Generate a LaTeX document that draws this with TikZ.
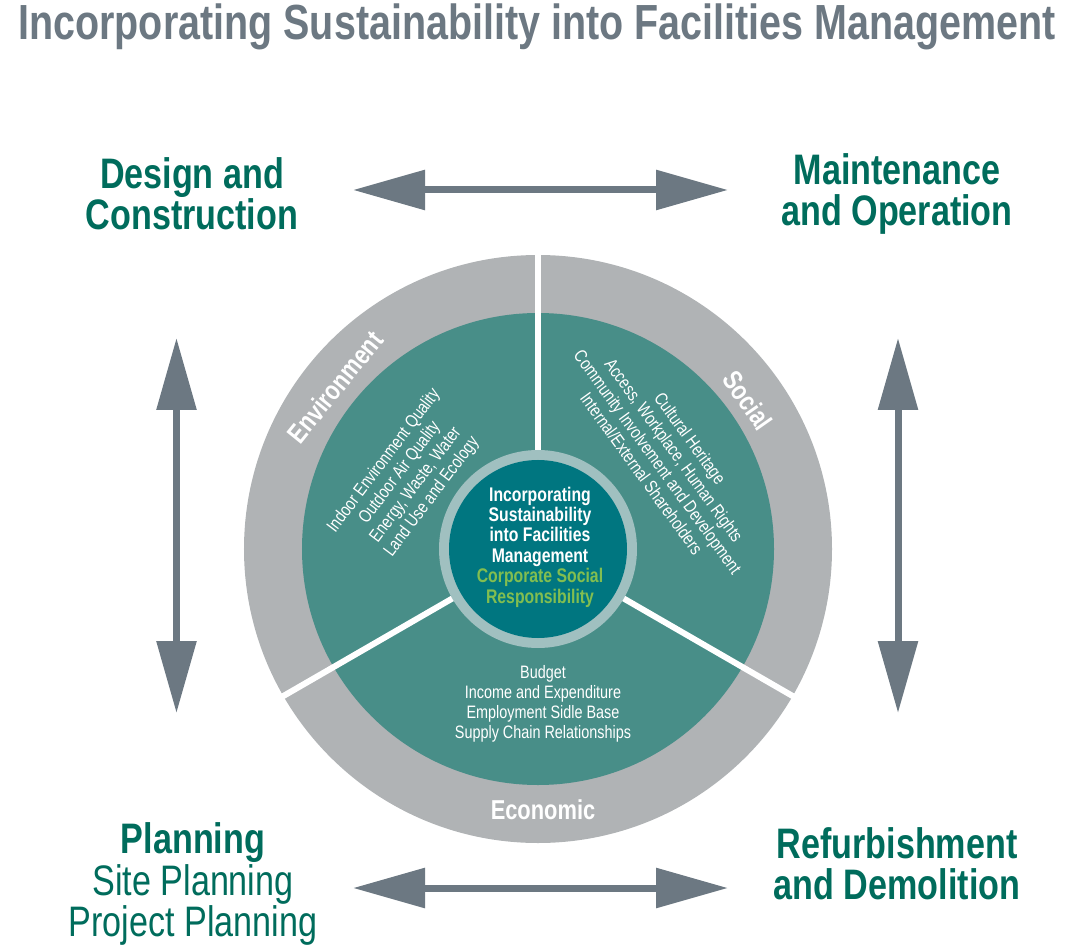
\documentclass[tikz,border=0pt]{standalone}
\usepackage{fontspec}
\setmainfont{Liberation Sans}[FakeStretch=0.8]
\usetikzlibrary{arrows.meta}

\definecolor{headgrey}{RGB}{108,120,130}
\definecolor{ringgrey}{RGB}{176,179,181}
\definecolor{fmteal}{RGB}{72,142,136}
\definecolor{coreteal}{RGB}{0,118,128}
\definecolor{paleteal}{RGB}{160,192,192}
\definecolor{fmgreen}{RGB}{0,108,92}
\definecolor{limegreen}{RGB}{130,190,80}

\tikzset{
  corner/.style={text=fmgreen,align=center,font=\fontsize{32}{31}\selectfont},
  ringlabel/.style={text=white,font=\fontsize{20.5}{22}\selectfont\bfseries},
  itemlist/.style={text=white,align=center,font=\fontsize{13.5}{15}\selectfont},
  divider/.style={white,line width=4.5pt},
  dblarrow/.style={headgrey,line width=5.25pt,{Triangle[length=54pt,width=29pt]}-{Triangle[length=54pt,width=29pt]}}
}

\begin{document}
\begin{tikzpicture}[x=0.75pt,y=0.75pt]
\useasboundingbox (-538,-400) rectangle (535,549);

\node[text=headgrey,font=\fontsize{37}{40}\selectfont\bfseries] (title) at (-1,522) {Incorporating Sustainability into Facilities Management};

% wheel
\fill[ringgrey] (0,0) circle (294);
\fill[fmteal] (0,0) circle (236);
\foreach \a in {90,210,330} \draw[divider] (0,0) -- (\a:300);
\fill[paleteal] (0,0) circle (99);
\fill[coreteal] (0,0) circle (89);

\node[text=white,align=center,font=\fontsize{14.8}{15.3}\selectfont\bfseries] (core) at (2,2)
  {Incorporating\\Sustainability\\into Facilities\\Management\\\textcolor{limegreen}{Corporate Social}\\\textcolor{limegreen}{Responsibility}};

\node[ringlabel,rotate=51] (env) at (-203,162) {Environment};
\node[ringlabel,rotate=-55] (soc) at (210,149) {Social};
\node[ringlabel] (eco) at (5,-261) {Economic};

\node[itemlist,rotate=53] (envlist) at (-130,70) {Indoor Environment Quality\\Outdoor Air Quality\\Energy, Waste, Water\\Land Use and Ecology};
\node[itemlist,rotate=-54] (soclist) at (128,93) {Cultural Heritage\\Access, Workplace, Human Rights\\Community Involvement and Development\\Internal/External Shareholders};
\node[itemlist] (ecolist) at (5,-155) {Budget\\Income and Expenditure\\Employment Sidle Base\\Supply Chain Relationships};

% phases
\node[corner] (design) at (-346,355) {\bfseries Design and\\\bfseries Construction};
\node[corner] (maint) at (359,355) {\bfseries Maintenance\\\bfseries and Operation};
\node[corner] (plan) at (-345,-335) {\bfseries Planning\\Site Planning\\Project Planning};
\node[corner] (refurb) at (359,-314.5) {\bfseries Refurbishment\\\bfseries and Demolition};

\coordinate (topL) at (-185,359);
\coordinate (topR) at (190,359);
\coordinate (botL) at (-185,-339);
\coordinate (botR) at (190,-339);
\coordinate (leftT) at (-361.5,211);
\coordinate (leftB) at (-361.5,-164);
\coordinate (rightT) at (360,211);
\coordinate (rightB) at (360,-164);

\draw[dblarrow] (topL) -- (topR);
\draw[dblarrow] (botL) -- (botR);
\draw[dblarrow] (leftT) -- (leftB);
\draw[dblarrow] (rightT) -- (rightB);
\end{tikzpicture}
\end{document}
